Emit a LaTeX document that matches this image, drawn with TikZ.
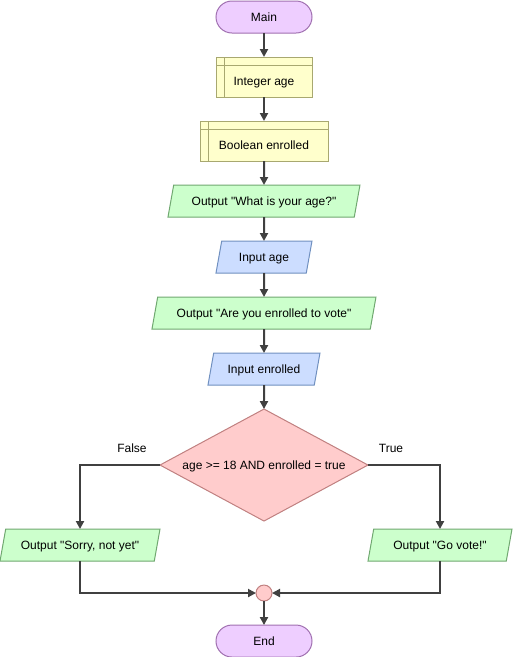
\documentclass[tikz,border=0pt]{standalone}
\usepackage{fontspec}
\setmainfont{Liberation Sans}[Ligatures=TeXOff]
\usetikzlibrary{positioning,calc,arrows.meta}
\usetikzlibrary{shapes.geometric}
\definecolor{termfill}{RGB}{238,206,255}
\definecolor{termline}{RGB}{160,112,176}
\definecolor{declfill}{RGB}{255,255,204}
\definecolor{declline}{RGB}{168,168,112}
\definecolor{outfill}{RGB}{204,255,204}
\definecolor{outline}{RGB}{112,168,112}
\definecolor{infill}{RGB}{204,221,255}
\definecolor{inline}{RGB}{112,144,192}
\definecolor{condfill}{RGB}{255,204,204}
\definecolor{condline}{RGB}{192,128,128}
\definecolor{flowline}{RGB}{64,64,64}
\tikzset{
  box/.style={draw, line width=1pt, outer sep=0pt, font=\fontsize{12}{14}\selectfont,
    text height=8.6pt, text depth=0pt, inner sep=4pt},
  term/.style={box, draw=termline, fill=termfill, rounded corners=16pt,
    minimum width=96pt, minimum height=32pt},
  decl/.style={box, draw=declline, fill=declfill, minimum height=40pt,
    text height=16.6pt, text depth=0pt,
    path picture={\draw[declline, line width=1pt]
      ([xshift=8pt]path picture bounding box.north west) -- ([xshift=8pt]path picture bounding box.south west)
      ([yshift=-8pt]path picture bounding box.north west) -- ([yshift=-8pt]path picture bounding box.north east);}},
  io/.style={box, trapezium, trapezium left angle=71, trapezium right angle=109,
    trapezium stretches body, minimum height=32pt},
  outbox/.style={io, draw=outline, fill=outfill},
  inbox/.style={io, draw=inline, fill=infill},
  decision/.style={box, diamond, draw=condline, fill=condfill, inner sep=0pt,
    aspect=1.857, minimum width=208pt, minimum height=112pt},
  joint/.style={circle, draw=condline, fill=condfill, line width=1pt, outer sep=0pt,
    inner sep=0pt, minimum size=16pt},
  flow/.style={draw=flowline, line width=2pt, -{Triangle[length=8pt,width=8pt]}},
  lbl/.style={font=\fontsize{12}{14}\selectfont, text height=8.6pt, text depth=0pt}
}

\begin{document}
\begin{tikzpicture}[x=1pt,y=1pt,node distance=24pt]
  \useasboundingbox (0,0) rectangle (513,-657);
  \node[term] (main) at (264,-17) {Main};
  \node[decl, minimum width=96pt, below=of main] (age) {Integer age};
  \node[decl, minimum width=128pt, below=of age] (enr) {Boolean enrolled};
  \node[outbox, minimum width=192pt, below=of enr] (askage) {Output "What is your age?"};
  \node[inbox, minimum width=96pt, below=of askage] (inage) {Input age};
  \node[outbox, minimum width=224pt, below=of inage] (askenr) {Output "Are you enrolled to vote"};
  \node[inbox, minimum width=112pt, below=of askenr] (inenr) {Input enrolled};
  \node[decision, below=of inenr] (cond) {age >= 18 AND enrolled = true};
  \node[outbox, minimum width=160pt] (notyet) at ($(cond)+(-184pt,-80pt)$) {Output "Sorry, not yet"};
  \node[outbox, minimum width=144pt] (govote) at ($(cond)+(176pt,-80pt)$) {Output "Go vote!"};
  \node[joint, below=64pt of cond] (merge) {};
  \node[term, below=of merge] (end) {End};
  \draw[flow] (main) -- (age);
  \draw[flow] (age) -- (enr);
  \draw[flow] (enr) -- (askage);
  \draw[flow] (askage) -- (inage);
  \draw[flow] (inage) -- (askenr);
  \draw[flow] (askenr) -- (inenr);
  \draw[flow] (inenr) -- (cond);
  \draw[flow] (cond.west) -| node[lbl, pos=0.175, above=8pt] {False} (notyet.north);
  \draw[flow] (cond.east) -| node[lbl, pos=0.16, above=8pt] {True} (govote.north);
  \draw[flow] (notyet.south) |- (merge.west);
  \draw[flow] (govote.south) |- (merge.east);
  \draw[flow] (merge) -- (end);
\end{tikzpicture}
\end{document}
